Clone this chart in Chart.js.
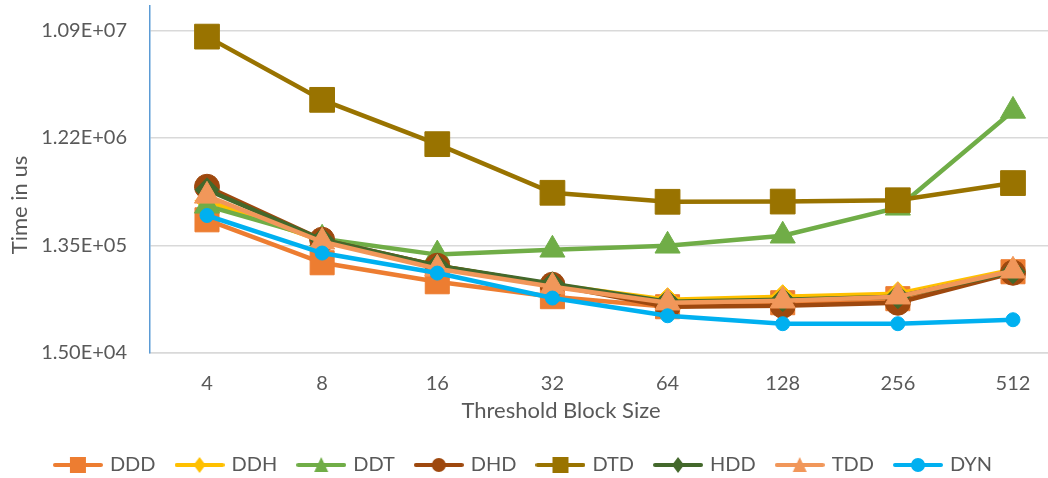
<!DOCTYPE html>
<html>
<head>
<meta charset="utf-8">
<script src="https://cdn.jsdelivr.net/npm/chart.js@4.4.1/dist/chart.umd.min.js"></script>
<style>
  html, body { margin: 0; padding: 0; background: #fff; overflow: hidden; }
  canvas { display: block; }
</style>
</head>
<body>
<canvas id="blockSizeChart" width="1048" height="478"></canvas>
<script>
const blockSizes = ['4', '8', '16', '32', '64', '128', '256', '512'];

const ddd = [228000, 94800, 64300, 47400, 38600, 41900, 45500, 78900];
const ddh = [336000, 148600, 89200, 60500, 44600, 47400, 50400, 82200];
const ddt = [303500, 154800, 112000, 123600, 134100, 164600, 291400, 2110000];
const dhd = [448000, 151700, 89200, 60500, 38600, 39400, 41900, 77300];
const dtd = [9630000, 2645000, 1070000, 396000, 329500, 331000, 340000, 483000];
const hdd = [421000, 151700, 89200, 61700, 42800, 44600, 47400, 78900];
const tdd = [372000, 145600, 83900, 58100, 41900, 43600, 47400, 80500];
const dyn = [249000, 115600, 76800, 46100, 32100, 27300, 27300, 29600];

const yTicks = [15000, 135000, 1215000, 10935000];
const yTickLabels = ['1.50E+04', '1.35E+05', '1.22E+06', '1.09E+07'];

const textColor = '#595959';
const gridColor = '#D9D9D9';
const font = { family: 'Lato', size: 20 };

const series = [
    { label: 'DDD', data: ddd, color: '#ED7D31', shape: 'rect', radius: 17 },
    { label: 'DDH', data: ddh, color: '#FFC000', shape: 'rectRot', radius: 12 },
    { label: 'DDT', data: ddt, color: '#70AD47', shape: 'triangle', radius: 14.5 },
    { label: 'DHD', data: dhd, color: '#9E480E', shape: 'circle', radius: 12.5 },
    { label: 'DTD', data: dtd, color: '#997300', shape: 'rect', radius: 17.5 },
    { label: 'HDD', data: hdd, color: '#43682B', shape: 'rectRot', radius: 12 },
    { label: 'TDD', data: tdd, color: '#F1975A', shape: 'triangle', radius: 14.5 },
    { label: 'DYN', data: dyn, color: '#00B0F0', shape: 'circle', radius: 7 }
];

// small line + marker icon for the legend, like the office legend keys
function legendIcon(color, shape) {
    const c = document.createElement('canvas');
    c.width = 50;
    c.height = 20;
    const g = c.getContext('2d');
    g.strokeStyle = color;
    g.fillStyle = color;
    g.lineWidth = 4;
    g.lineCap = 'round';
    g.beginPath();
    g.moveTo(2, 10);
    g.lineTo(48, 10);
    g.stroke();
    g.beginPath();
    const cx = 25, cy = 10;
    if (shape === 'rect') {
        g.rect(cx - 8, cy - 8, 16, 16);
    } else if (shape === 'rectRot') {
        g.moveTo(cx, cy - 8);
        g.lineTo(cx + 6, cy);
        g.lineTo(cx, cy + 8);
        g.lineTo(cx - 6, cy);
        g.closePath();
    } else if (shape === 'triangle') {
        g.moveTo(cx, cy - 8);
        g.lineTo(cx + 7, cy + 7);
        g.lineTo(cx - 7, cy + 7);
        g.closePath();
    } else {
        g.arc(cx, cy, 7, 0, Math.PI * 2);
    }
    g.fill();
    return c;
}

const icons = series.map(s => legendIcon(s.color, s.shape));

const datasets = series.map((s, i) => ({
    label: s.label,
    data: s.data.map((v, j) => ({ x: j, y: v })),
    borderColor: s.color,
    backgroundColor: s.color,
    borderWidth: 4.5,
    pointStyle: s.shape,
    pointRadius: s.radius,
    pointHoverRadius: s.radius,
    pointBackgroundColor: s.color,
    pointBorderColor: s.color,
    pointBorderWidth: 1,
    tension: 0,
    order: series.length - i
}));

// axis titles sit off-centre in the original, so draw them here
const axisTitles = {
    id: 'axisTitles',
    afterDraw(chart) {
        const ctx = chart.ctx;
        ctx.save();
        ctx.font = '22px Lato';
        ctx.fillStyle = textColor;
        ctx.textAlign = 'center';
        ctx.textBaseline = 'middle';
        ctx.fillText('Threshold Block Size', 561, 411);
        ctx.translate(20, 205);
        ctx.rotate(-Math.PI / 2);
        ctx.fillText('Time in us', 0, 0);
        ctx.restore();
    }
};

const ctx = document.getElementById('blockSizeChart').getContext('2d');

new Chart(ctx, {
    type: 'line',
    data: { datasets: datasets },
    plugins: [axisTitles],
    options: {
        responsive: false,
        animation: false,
        devicePixelRatio: 1,
        layout: { autoPadding: false, padding: { top: 0, left: 0, right: 0, bottom: -7 } },
        plugins: {
            tooltip: { enabled: false },
            legend: {
                position: 'bottom',
                labels: {
                    usePointStyle: true,
                    pointStyleWidth: 44,
                    padding: 22,
                    color: textColor,
                    font: font,
                    generateLabels: function (chart) {
                        return chart.data.datasets.map((ds, i) => ({
                            text: ds.label,
                            pointStyle: icons[i],
                            fillStyle: ds.borderColor,
                            strokeStyle: ds.borderColor,
                            lineWidth: 0,
                            fontColor: textColor,
                            hidden: !chart.isDatasetVisible(i),
                            datasetIndex: i
                        }));
                    }
                }
            }
        },
        scales: {
            x: {
                type: 'linear',
                min: -0.495,
                max: 7.304,
                grid: { display: false },
                border: { display: true, color: gridColor, width: 1.5 },
                ticks: {
                    padding: 11,
                    color: textColor,
                    font: font,
                    autoSkip: false,
                    maxRotation: 0,
                    callback: function (value) {
                        return blockSizes[value];
                    }
                },
                afterBuildTicks: function (scale) {
                    scale.ticks = blockSizes.map((b, i) => ({ value: i }));
                },
                afterFit: function (scale) {
                    scale.height = 80;
                    scale.paddingLeft = 0;
                    scale.paddingRight = 0;
                }
            },
            y: {
                type: 'logarithmic',
                min: 15000,
                max: 18000000,
                grid: { color: gridColor, lineWidth: 1.5, drawTicks: false },
                border: { display: true, color: '#5B9BD5', width: 1.5 },
                ticks: {
                    padding: 23,
                    color: textColor,
                    font: font,
                    autoSkip: false,
                    callback: function (value, index) {
                        return yTickLabels[index];
                    }
                },
                afterBuildTicks: function (scale) {
                    scale.ticks = yTicks.map(v => ({ value: v }));
                },
                afterFit: function (scale) {
                    scale.width = 150;
                    scale.paddingTop = 6;
                    scale.paddingBottom = 0;
                }
            }
        }
    }
});
</script>
</body>
</html>
